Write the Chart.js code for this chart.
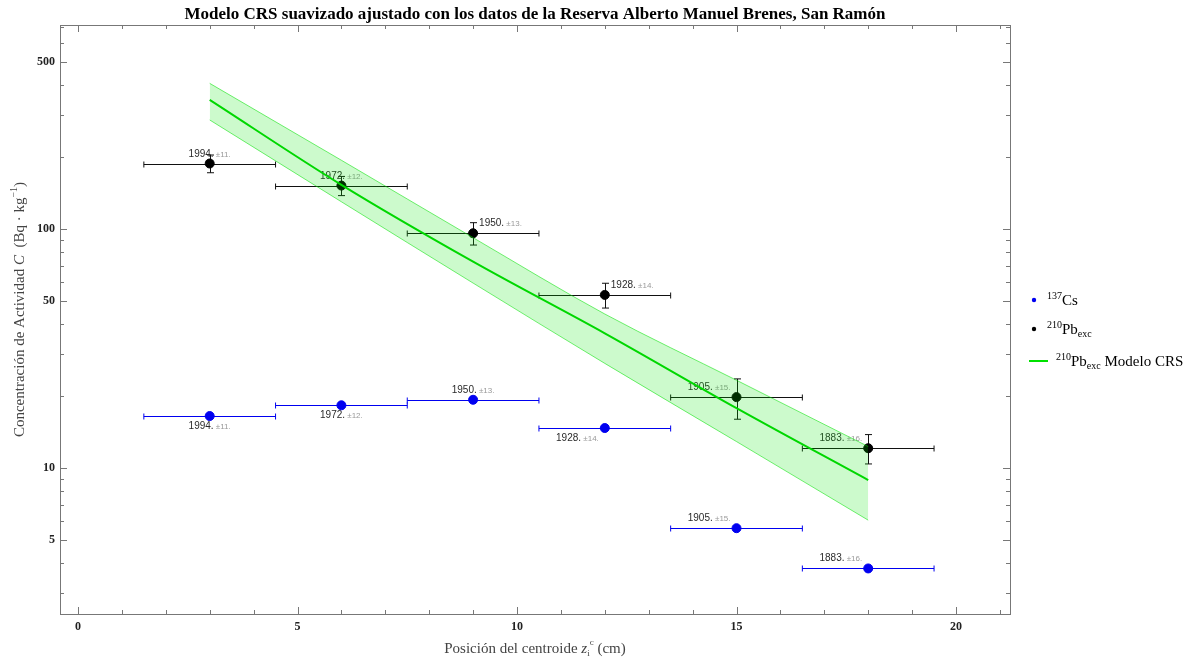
<!DOCTYPE html>
<html>
<head>
<meta charset="utf-8">
<script src="https://cdn.jsdelivr.net/npm/chart.js@4/dist/chart.umd.min.js"></script>
<style>
  html, body { margin: 0; padding: 0; background: #fff; }
</style>
</head>
<body>
<canvas id="crsChart" width="1187" height="657"></canvas>
<script>
// centroide de cada capa (cm) y su semiancho
const depth = [3, 6, 9, 12, 15, 18];
const depthErr = [1.5, 1.5, 1.5, 1.5, 1.5, 1.5];
// actividad medida (Bq/kg)
const pbExc = [188, 152, 96, 53, 19.8, 12.1];
const pbExcErr = [16, 14, 10.3, 6.3, 3.8, 1.7];
const cs137 = [16.5, 18.3, 19.3, 14.7, 5.6, 3.8];
// fechas del modelo y su incertidumbre
const years = [1994, 1972, 1950, 1928, 1905, 1883];
const yearErr = [11, 12, 13, 14, 15, 16];
// curva del modelo CRS y su banda
const modelDepth = [3, 6, 9, 12, 15, 18];
const modelC = [347, 153, 73, 36.6, 17.8, 8.9];
const modelHigh = [407, 194, 92, 44.1, 23.3, 12.3];
const modelLow = [286, 130, 59.4, 27.4, 12.9, 6.05];
// marcas de los ejes
const xMajor = [0, 5, 10, 15, 20];
const xMinor = [1, 2, 3, 4, 6, 7, 8, 9, 11, 12, 13, 14, 16, 17, 18, 19, 21];
const yMajor = [5, 10, 50, 100, 500];
const yMinor = [3, 4, 6, 7, 8, 9, 20, 30, 40, 60, 70, 80, 90, 200, 300, 400, 600, 700];

const SERIF = '"Liberation Serif", "Times New Roman", serif';
const SANS = '"Liberation Sans", Arial, sans-serif';
const BLUE = '#0000f0';

const toXY = (xs, ys) => xs.map((x, i) => ({ x: x, y: ys[i] }));

// dibuja un texto compuesto por trozos con distinta fuente / desplazamiento
function richWidth(ctx, parts) {
  let w = 0;
  parts.forEach(p => { ctx.font = p.font; w += ctx.measureText(p.t).width; });
  return w;
}
function richText(ctx, parts, x, y, align) {
  const w = richWidth(ctx, parts);
  let cx = align === 'center' ? x - w / 2 : align === 'right' ? x - w : x;
  ctx.textAlign = 'left';
  ctx.textBaseline = 'alphabetic';
  parts.forEach(p => {
    ctx.font = p.font;
    ctx.fillStyle = p.color || '#000';
    ctx.fillText(p.t, cx, y + (p.dy || 0));
    cx += ctx.measureText(p.t).width;
  });
}

// donde va la etiqueta de fecha respecto a cada punto
const pbLabelAt = ['above', 'above', 'aboveRight', 'aboveRight', 'aboveLeft', 'aboveLeft'];
const csLabelAt = ['below', 'below', 'above', 'belowLeft', 'aboveLeft', 'aboveLeft'];

function dateLabel(ctx, px, py, i, where) {
  const parts = [
    { t: years[i] + '.', font: '10px ' + SANS, color: '#2a2a2a' },
    { t: ' \u00b1' + yearErr[i] + '.', font: '8px ' + SANS, color: '#999' }
  ];
  const up = where.startsWith('above');
  const y = up ? py - 7 : py + 13;
  if (where === 'above' || where === 'below') richText(ctx, parts, px, y, 'center');
  else if (where.endsWith('Right')) richText(ctx, parts, px + 6, y, 'left');
  else richText(ctx, parts, px - 6, y, 'right');
}

// barras de error y fechas, debajo de la banda del modelo
const errorBars = {
  id: 'errorBars',
  beforeDatasetsDraw(chart) {
    const { ctx, scales: { x, y } } = chart;
    ctx.save();
    ctx.lineWidth = 1;
    depth.forEach((d, i) => {
      const x0 = x.getPixelForValue(d - depthErr[i]);
      const x1 = x.getPixelForValue(d + depthErr[i]);
      // 137Cs: solo horizontal
      let py = Math.round(y.getPixelForValue(cs137[i])) + 0.5;
      ctx.strokeStyle = BLUE;
      ctx.beginPath();
      ctx.moveTo(x0, py); ctx.lineTo(x1, py);
      ctx.moveTo(x0, py - 3); ctx.lineTo(x0, py + 3);
      ctx.moveTo(x1, py - 3); ctx.lineTo(x1, py + 3);
      ctx.stroke();
      // 210Pb: horizontal y vertical
      py = Math.round(y.getPixelForValue(pbExc[i])) + 0.5;
      const px = Math.round(x.getPixelForValue(d)) + 0.5;
      const yTop = y.getPixelForValue(pbExc[i] + pbExcErr[i]);
      const yBot = y.getPixelForValue(pbExc[i] - pbExcErr[i]);
      ctx.strokeStyle = '#111';
      ctx.beginPath();
      ctx.moveTo(x0, py); ctx.lineTo(x1, py);
      ctx.moveTo(x0, py - 3); ctx.lineTo(x0, py + 3);
      ctx.moveTo(x1, py - 3); ctx.lineTo(x1, py + 3);
      ctx.moveTo(px, yTop); ctx.lineTo(px, yBot);
      ctx.moveTo(px - 3.5, yTop); ctx.lineTo(px + 3.5, yTop);
      ctx.moveTo(px - 3.5, yBot); ctx.lineTo(px + 3.5, yBot);
      ctx.stroke();
    });
    depth.forEach((d, i) => {
      const px = x.getPixelForValue(d);
      dateLabel(ctx, px, y.getPixelForValue(pbExc[i]), i, pbLabelAt[i]);
      dateLabel(ctx, px, y.getPixelForValue(cs137[i]), i, csLabelAt[i]);
    });
    ctx.restore();
  }
};

// marco, marcas hacia dentro, titulos de ejes y leyenda
const frame = {
  id: 'frame',
  afterDraw(chart) {
    const { ctx, chartArea: a, scales: { x, y } } = chart;
    ctx.save();
    ctx.strokeStyle = '#777';
    ctx.lineWidth = 1;
    ctx.strokeRect(Math.round(a.left) + 0.5, Math.round(a.top) + 0.5,
      Math.round(a.right - a.left), Math.round(a.bottom - a.top));
    ctx.beginPath();
    const xt = (v, len) => {
      const p = Math.round(x.getPixelForValue(v)) + 0.5;
      ctx.moveTo(p, a.bottom); ctx.lineTo(p, a.bottom - len);
      ctx.moveTo(p, a.top); ctx.lineTo(p, a.top + len);
    };
    const yt = (v, len) => {
      const p = Math.round(y.getPixelForValue(v)) + 0.5;
      ctx.moveTo(a.left, p); ctx.lineTo(a.left + len, p);
      ctx.moveTo(a.right, p); ctx.lineTo(a.right - len, p);
    };
    xMajor.forEach(v => xt(v, 7));
    xMinor.forEach(v => xt(v, 4));
    yMajor.forEach(v => yt(v, 7));
    yMinor.forEach(v => yt(v, 4));
    ctx.stroke();

    // titulo del eje x
    richText(ctx, [
      { t: 'Posici\u00f3n del centroide ', font: '15px ' + SERIF, color: '#444' },
      { t: 'z', font: 'italic 15px ' + SERIF, color: '#444' },
      { t: 'i', font: '9px ' + SERIF, color: '#444', dy: 3 },
      { t: 'c', font: '9px ' + SERIF, color: '#444', dy: -8 },
      { t: ' (cm)', font: '15px ' + SERIF, color: '#444' }
    ], (a.left + a.right) / 2, 653, 'center');

    // titulo del eje y
    ctx.save();
    ctx.translate(24, (a.top + a.bottom) / 2 - 10);
    ctx.rotate(-Math.PI / 2);
    richText(ctx, [
      { t: 'Concentraci\u00f3n de Actividad ', font: '15px ' + SERIF, color: '#444' },
      { t: 'C', font: 'italic 15px ' + SERIF, color: '#444' },
      { t: '  (Bq \u00b7 kg', font: '15px ' + SERIF, color: '#444' },
      { t: '\u22121', font: '10px ' + SERIF, color: '#444', dy: -7 },
      { t: ')', font: '15px ' + SERIF, color: '#444' }
    ], 0, 0, 'center');
    ctx.restore();

    // leyenda
    const lx = 1034;
    ctx.fillStyle = BLUE;
    ctx.beginPath(); ctx.arc(lx, 300, 2.2, 0, Math.PI * 2); ctx.fill();
    richText(ctx, [
      { t: '137', font: '10px ' + SERIF, dy: -6 },
      { t: 'Cs', font: '15px ' + SERIF }
    ], 1047, 305, 'left');
    ctx.fillStyle = '#000';
    ctx.beginPath(); ctx.arc(lx, 329, 2.2, 0, Math.PI * 2); ctx.fill();
    richText(ctx, [
      { t: '210', font: '10px ' + SERIF, dy: -6 },
      { t: 'Pb', font: '15px ' + SERIF },
      { t: 'exc', font: '10px ' + SERIF, dy: 3 }
    ], 1047, 334, 'left');
    ctx.strokeStyle = 'rgb(0,225,0)';
    ctx.lineWidth = 2;
    ctx.beginPath(); ctx.moveTo(1029, 361); ctx.lineTo(1048, 361); ctx.stroke();
    richText(ctx, [
      { t: '210', font: '10px ' + SERIF, dy: -6 },
      { t: 'Pb', font: '15px ' + SERIF },
      { t: 'exc', font: '10px ' + SERIF, dy: 3 },
      { t: ' Modelo CRS', font: '15px ' + SERIF }
    ], 1056, 366, 'left');
    ctx.restore();
  }
};

const tickFont = { family: SERIF, weight: 'bold', size: 12 };

new Chart(document.getElementById('crsChart'), {
  type: 'line',
  data: {
    datasets: [
      {
        label: 'Modelo CRS',
        data: toXY(modelDepth, modelC),
        borderColor: 'rgb(0,215,0)',
        borderWidth: 2,
        pointRadius: 0,
        fill: false,
        cubicInterpolationMode: 'monotone',
        order: 0
      },
      {
        label: 'banda superior',
        data: toXY(modelDepth, modelHigh),
        borderColor: 'rgba(0,225,0,0.55)',
        borderWidth: 1,
        backgroundColor: 'rgba(0,230,0,0.2)',
        pointRadius: 0,
        fill: '+1',
        cubicInterpolationMode: 'monotone',
        order: 1
      },
      {
        label: 'banda inferior',
        data: toXY(modelDepth, modelLow),
        borderColor: 'rgba(0,225,0,0.55)',
        borderWidth: 1,
        pointRadius: 0,
        fill: false,
        cubicInterpolationMode: 'monotone',
        order: 2
      },
      {
        label: '210Pb exc',
        data: toXY(depth, pbExc),
        showLine: false,
        pointRadius: 4.5,
        pointBackgroundColor: '#000',
        pointBorderColor: '#000',
        order: 3
      },
      {
        label: '137Cs',
        data: toXY(depth, cs137),
        showLine: false,
        pointRadius: 4.5,
        pointBackgroundColor: BLUE,
        pointBorderColor: BLUE,
        order: 4
      }
    ]
  },
  options: {
    responsive: false,
    animation: false,
    layout: { padding: { left: 0, right: 177, top: 0, bottom: 0 } },
    plugins: {
      legend: { display: false },
      tooltip: { enabled: false },
      title: {
        display: true,
        fullSize: false,
        text: 'Modelo CRS suavizado ajustado con los datos de la Reserva Alberto Manuel Brenes, San Ram\u00f3n',
        color: '#000',
        font: { family: SERIF, weight: 'bold', size: 17 },
        padding: { top: 4, bottom: 0.6 }
      }
    },
    scales: {
      x: {
        type: 'linear',
        min: -0.41,
        max: 21.23,
        grid: { display: false, drawTicks: false },
        border: { display: false },
        afterBuildTicks: s => { s.ticks = xMajor.map(v => ({ value: v })); },
        afterFit: s => { s.height = 43; },
        ticks: { font: tickFont, color: '#222', padding: 6, maxRotation: 0, callback: v => String(v) }
      },
      y: {
        type: 'logarithmic',
        min: 2.45,
        max: 714,
        grid: { display: false, drawTicks: false },
        border: { display: false },
        afterBuildTicks: s => { s.ticks = yMajor.map(v => ({ value: v })); },
        afterFit: s => { s.width = 60; },
        ticks: { font: tickFont, color: '#222', padding: 5, callback: v => String(v) }
      }
    }
  },
  plugins: [errorBars, frame]
});
</script>
</body>
</html>
